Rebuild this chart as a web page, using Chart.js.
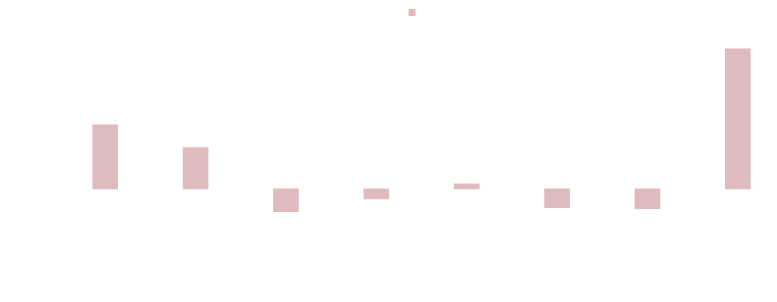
<!DOCTYPE html>
<html>
<head>
<meta charset="utf-8">
<script src="https://cdn.jsdelivr.net/npm/chart.js@4/dist/chart.umd.min.js"></script>
<style>
  html, body { margin: 0; padding: 0; background: #ffffff; overflow: hidden; }
  #wrap { width: 860px; height: 302px; }
</style>
</head>
<body>
<div id="wrap"><canvas id="barChart"></canvas></div>
<script>
'use strict';

// --- Data ---
const categories = ['2013', '2014', '2015', '2016', '2017', '2018', '2019', '2020'];
const seriesLabel = 'Value';
const values = [40, 25.8, -14.2, -6.2, 3.1, -11.7, -12.3, 87.4];
const yTicks = { min: -20, max: 100, step: 20 };

const barColor = '#dfbbbf';
const textColor = '#ffffff';

const ctx = document.getElementById('barChart').getContext('2d');

new Chart(ctx, {
    type: 'bar',
    data: {
        labels: categories,
        datasets: [{
            label: seriesLabel,
            data: values,
            backgroundColor: barColor,
            borderWidth: 0,
            barThickness: 25
        }]
    },
    options: {
        responsive: true,
        maintainAspectRatio: false,
        animation: false,
        layout: { padding: 0 },
        plugins: {
            legend: {
                position: 'top',
                labels: { boxWidth: 7, boxHeight: 7, padding: 6.5, color: textColor, font: { size: 12 } }
            },
            tooltip: { enabled: false }
        },
        scales: {
            x: {
                grid: { display: false },
                border: { display: false },
                ticks: { color: textColor, maxRotation: 0 },
                afterFit: (scale) => { scale.height = 81; }
            },
            y: {
                min: yTicks.min,
                max: yTicks.max,
                grid: { display: false },
                border: { display: false },
                ticks: { stepSize: yTicks.step, color: textColor },
                afterFit: (scale) => { scale.width = 60; }
            },
            // empty right-hand axis, only reserves the space on the right
            y1: {
                position: 'right',
                min: yTicks.min,
                max: yTicks.max,
                grid: { display: false },
                border: { display: false },
                ticks: { stepSize: yTicks.step, color: textColor },
                afterFit: (scale) => { scale.width = 77; }
            }
        }
    }
});
</script>
</body>
</html>
